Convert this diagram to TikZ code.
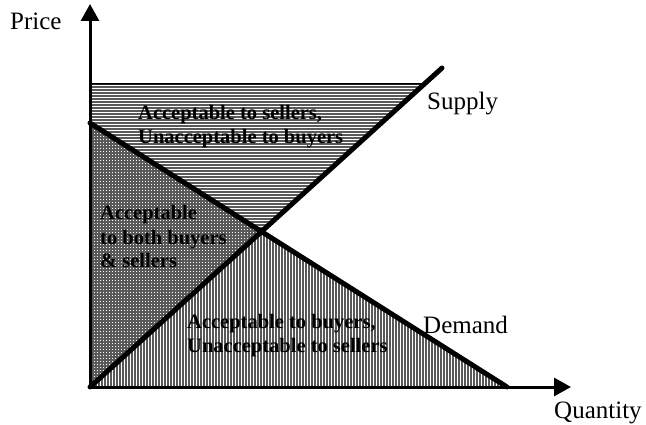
\documentclass[tikz,border=0pt]{standalone}
\usepackage{fontspec}
\setmainfont{Liberation Serif}
\usetikzlibrary{arrows.meta}

\begin{document}
\begin{tikzpicture}[x=1pt,y=-1pt,
  axis/.style={line width=3pt,-{Triangle[length=17pt,width=18pt]}},
  curve/.style={line width=5pt,line cap=round},
  hatch/.style={line width=1.5pt,draw=black!65},
  axislabel/.style={inner sep=0pt,anchor=base west,font=\fontsize{25}{30}\selectfont},
  region/.style={inner sep=0pt,anchor=base west,align=left,font=\fontsize{20.5}{24}\selectfont\bfseries}]
\useasboundingbox (0,0) rectangle (646,425);

% key points of the diagram
\coordinate (O) at (90,387);
\coordinate (ytip) at (90,4);
\coordinate (xtip) at (571,387);
\coordinate (S1) at (442,68);
\coordinate (D0) at (90,123);
\coordinate (D1) at (507,387);
\coordinate (T0) at (90,84);
\coordinate (Tr) at (520,84);
\coordinate (E) at (intersection of D0--D1 and O--S1);
\coordinate (T1) at (intersection of T0--Tr and O--S1);

% above demand, below the price ceiling: horizontal hatching
\begin{scope}
  \clip (T0) -- (T1) -- (E) -- (D0) -- cycle;
  \foreach \y in {84,87,...,240} \draw[hatch] (85,\y) -- (440,\y);
\end{scope}

% left of supply, below demand: cross hatching
\begin{scope}
  \clip (D0) -- (E) -- (O) -- cycle;
  \foreach \y in {120,123,...,390} \draw[hatch] (85,\y) -- (270,\y);
  \foreach \x in {90,93,...,270} \draw[hatch] (\x,118) -- (\x,392);
\end{scope}

% right of supply, below demand: vertical hatching
\begin{scope}
  \clip (O) -- (E) -- (D1) -- cycle;
  \foreach \x in {90,93,...,510} \draw[hatch] (\x,225) -- (\x,392);
\end{scope}

\draw[line width=1.5pt] (T0) -- (T1);

% axes
\draw[axis] (O) -- (ytip);
\draw[axis] (O) -- (xtip);

% supply and demand
\draw[curve] (O) -- (S1);
\draw[curve] (D0) -- (D1);

% labels (multi-line nodes sit on the baseline of their last line)
\node[axislabel] (price) at (10,30) {Price};
\node[axislabel] (supply) at (427,110) {Supply};
\node[axislabel] (demand) at (423,333) {Demand};
\node[axislabel] (quantity) at (554,418) {Quantity};
\node[region] (sellersonly) at (138,144) {Acceptable to sellers,\\Unacceptable to buyers};
\node[region] (both) at (100,268) {Acceptable\\to both buyers\\\& sellers};
\node[region] (buyersonly) at (187,352) {Acceptable to buyers,\\Unacceptable to sellers};
\end{tikzpicture}
\end{document}
